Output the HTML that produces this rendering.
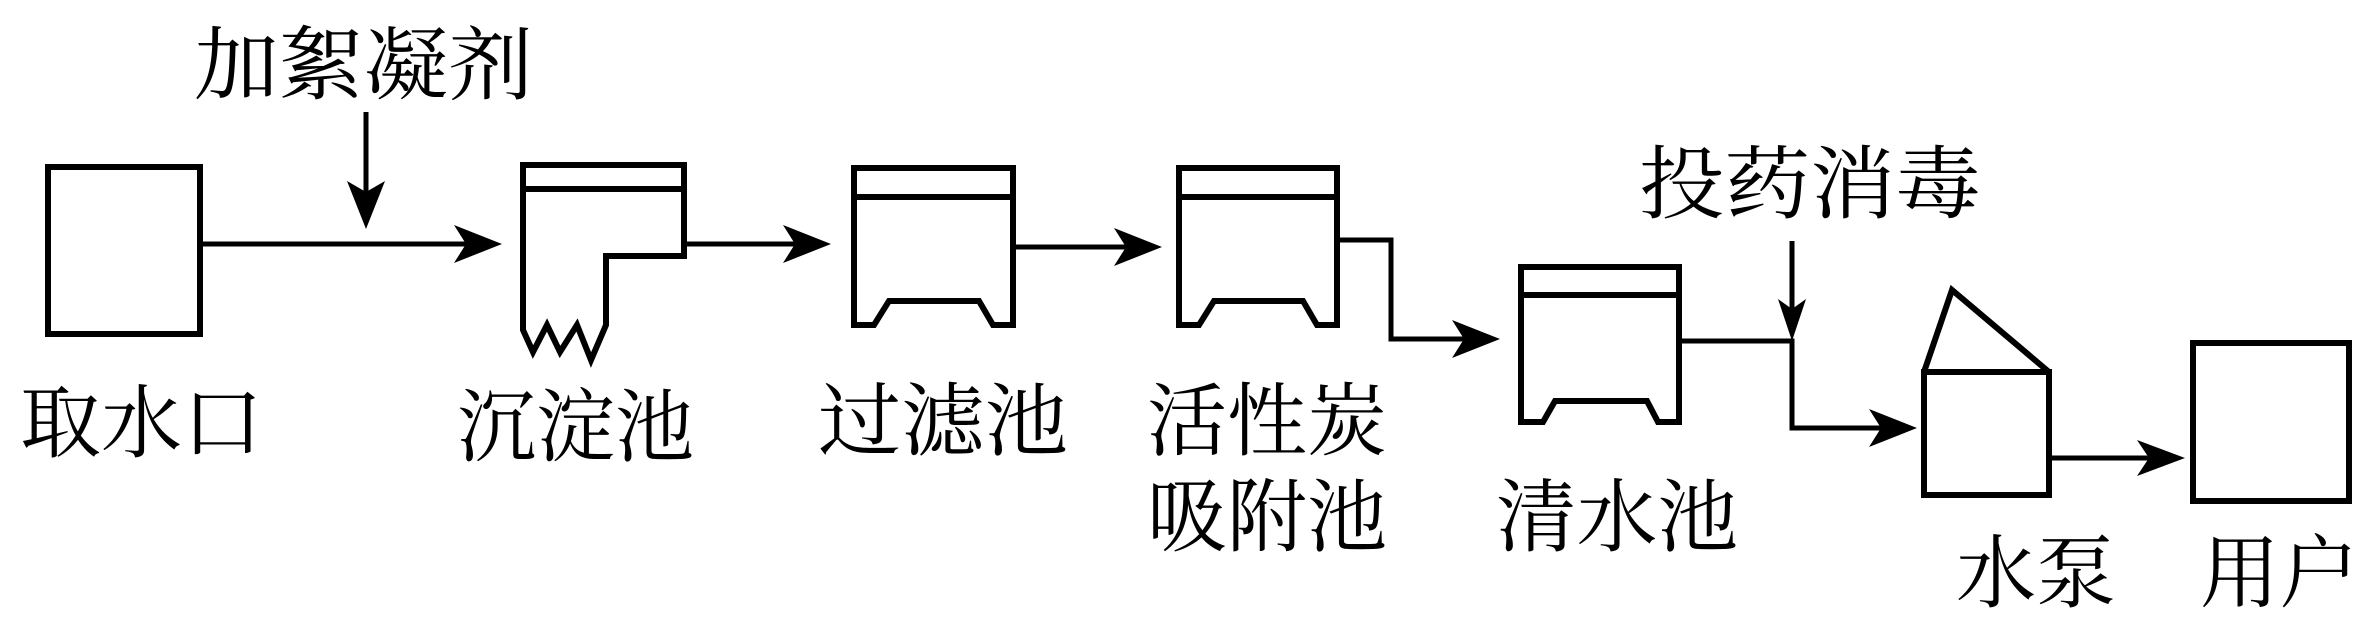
<!DOCTYPE html>
<html><head><meta charset="utf-8"><style>
html,body{margin:0;padding:0;background:#fff;}
svg{display:block;}
text{font-family:"Liberation Serif","Noto Serif CJK SC",serif;fill:#000;}
</style></head><body>
<svg width="2373" height="630" viewBox="0 0 2373 630" xmlns="http://www.w3.org/2000/svg">
<g fill="none" stroke="#000" stroke-width="6" stroke-linejoin="miter">
<!-- 取水口 -->
<rect x="48" y="167" width="152" height="167"/>
<!-- 沉淀池 -->
<path d="M523,330 L523,165 L684,165 L684,256 L606,256 L606,325 L591,360 L577,325 L560,352 L547,325 L533,352 Z"/>
<line x1="523" y1="189" x2="684" y2="189"/>
<!-- 过滤池 -->
<path d="M854,168 L1013,168 L1013,325 L993,325 L979,301 L889,301 L874,325 L854,325 Z"/>
<line x1="854" y1="197" x2="1013" y2="197"/>
<!-- 活性炭 -->
<path d="M1179,168 L1337,168 L1337,325 L1317,325 L1303,301 L1214,301 L1199,325 L1179,325 Z"/>
<line x1="1179" y1="197" x2="1337" y2="197"/>
<!-- 清水池 -->
<path d="M1521,267 L1679,267 L1679,422 L1658,422 L1647,401 L1555,401 L1543,422 L1521,422 Z"/>
<line x1="1521" y1="295" x2="1679" y2="295"/>
<!-- pump -->
<rect x="1924" y="372" width="125" height="123"/>
<path d="M1924,372 L1952,290 L2049,372"/>
<!-- user -->
<rect x="2193" y="343" width="156" height="158"/>
</g>
<g fill="none" stroke="#000" stroke-width="5">
<line x1="200" y1="244" x2="480" y2="244"/>
<line x1="366" y1="112" x2="366" y2="215"/>
<line x1="684" y1="244" x2="810" y2="244"/>
<line x1="1013" y1="247" x2="1140" y2="247"/>
<polyline points="1337,240 1391,240 1391,339 1480,339"/>
<polyline points="1679,341 1792,341 1792,428 1895,428"/>
<line x1="1792" y1="241" x2="1792" y2="320"/>
<line x1="2049" y1="458" x2="2165" y2="458"/>
</g>
<g fill="#000">
<path d="M502,244 L454,225 L466,244 L454,263 Z"/>
<path d="M366,229 L347,181 L366,192 L385,181 Z"/>
<path d="M831,244 L783,225 L795,244 L783,263 Z"/>
<path d="M1162,247 L1114,228 L1126,247 L1114,266 Z"/>
<path d="M1500,339 L1452,320 L1464,339 L1452,358 Z"/>
<path d="M1792,341 L1778,299 L1792,309 L1806,299 Z"/>
<path d="M1917,428 L1869,409 L1881,428 L1869,447 Z"/>
<path d="M2185,458 L2137,440 L2149,458 L2137,476 Z"/>
</g>
<g font-size="80">
<text x="194" y="93" textLength="339" lengthAdjust="spacingAndGlyphs">加絮凝剂</text>
<text x="20" y="451" textLength="243" lengthAdjust="spacingAndGlyphs">取水口</text>
<text x="457" y="455" textLength="237" lengthAdjust="spacingAndGlyphs">沉淀池</text>
<text x="818" y="449" textLength="250" lengthAdjust="spacingAndGlyphs">过滤池</text>
<text x="1147" y="449" textLength="240" lengthAdjust="spacingAndGlyphs">活性炭</text>
<text x="1147" y="545" textLength="240" lengthAdjust="spacingAndGlyphs">吸附池</text>
<text x="1496" y="545" textLength="242" lengthAdjust="spacingAndGlyphs">清水池</text>
<text x="1639" y="212" textLength="342" lengthAdjust="spacingAndGlyphs">投药消毒</text>
<text x="1956" y="601" textLength="160" lengthAdjust="spacingAndGlyphs">水泵</text>
<text x="2200" y="601" textLength="159" lengthAdjust="spacingAndGlyphs">用户</text>
</g>
</svg>
</body></html>
